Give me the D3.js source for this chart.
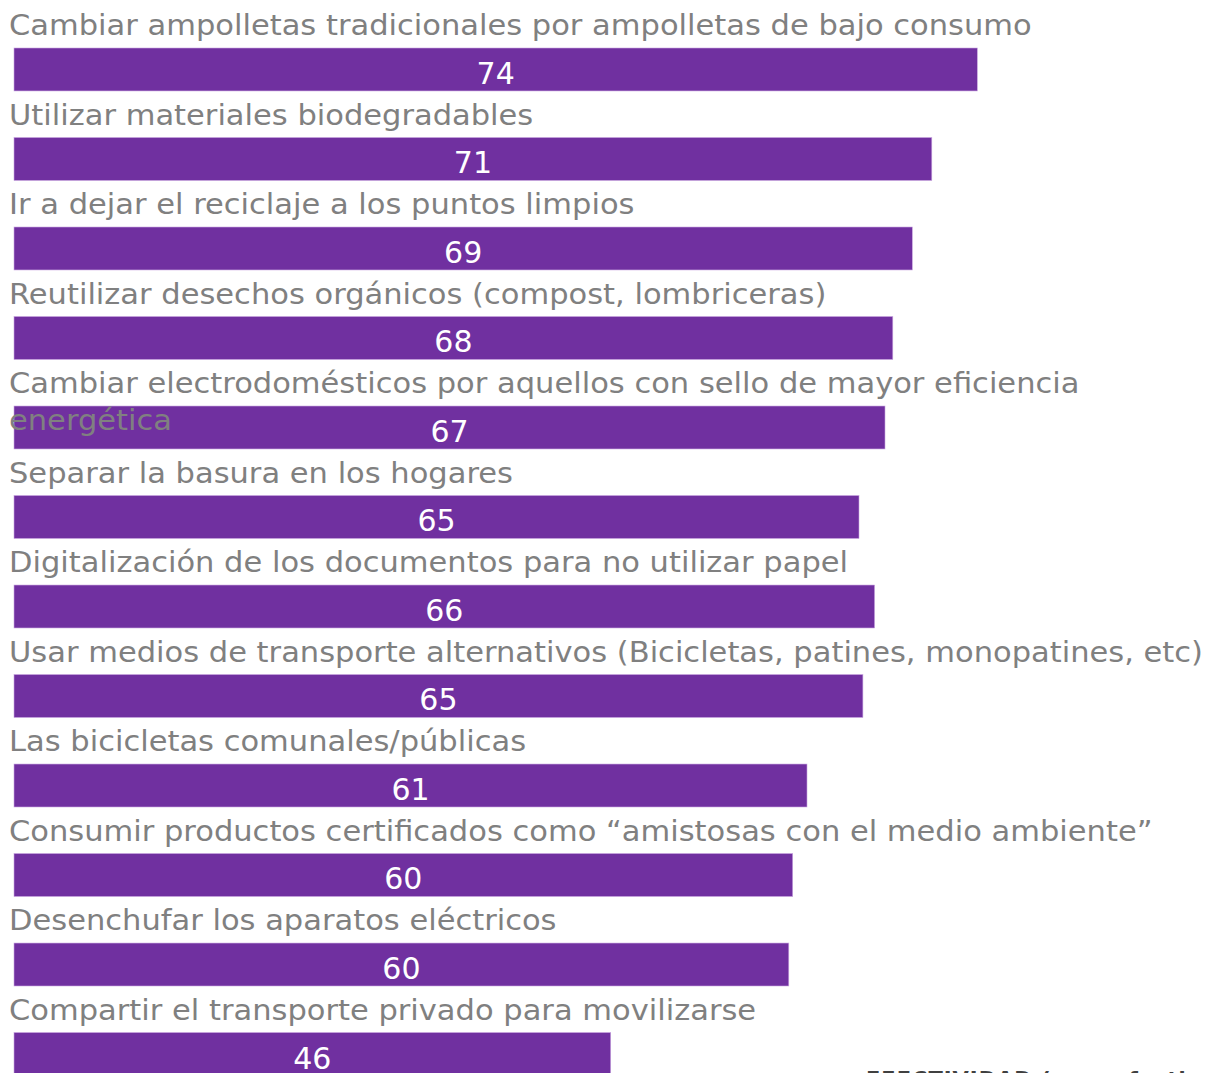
<!DOCTYPE html>
<html>
<head>
<meta charset="utf-8">
<script src="https://cdn.jsdelivr.net/npm/d3@7"></script>
<style>
  html, body { margin: 0; padding: 0; background: #ffffff; overflow: hidden; }
  svg { display: block; }
</style>
</head>
<body>
<svg id="chart" width="1206" height="1073"></svg>
<script>
const categories = [
  "Cambiar ampolletas tradicionales por ampolletas de bajo consumo",
  "Utilizar materiales biodegradables",
  "Ir a dejar el reciclaje a los puntos limpios",
  "Reutilizar desechos orgánicos (compost, lombriceras)",
  "Cambiar electrodomésticos por aquellos con sello de mayor eficiencia energética",
  "Separar la basura en los hogares",
  "Digitalización de los documentos para no utilizar papel",
  "Usar medios de transporte alternativos (Bicicletas, patines, monopatines, etc)",
  "Las bicicletas comunales/públicas",
  "Consumir productos certificados como “amistosas con el medio ambiente”",
  "Desenchufar los aparatos eléctricos",
  "Compartir el transporte privado para movilizarse"
];
const values = [74.1, 70.6, 69.1, 67.6, 67.0, 65.0, 66.2, 65.3, 61.0, 59.9, 59.6, 45.9];
const axisTitle = "EFECTIVIDAD (muy efectivo)";

const svg = d3.select("#chart");
const barColor = "#7030A0";
const labelColor = "#808080";
const fontFamily = "'DejaVu Sans', sans-serif";
const fontSize = 29;

const data = categories.map((c, i) => ({ cat: c, value: values[i] }));

const x = d3.scaleLinear().domain([0, 80]).range([14, 1054]);
const y = d3.scaleBand().domain(categories).range([48, 1075.5]).paddingInner(0.52).paddingOuter(0);

function measure(t) {
  const p = svg.append("text").attr("font-family", fontFamily).attr("font-size", fontSize).text(t);
  const w = p.node().getComputedTextLength();
  p.remove();
  return w;
}

// horizontal scale factor: widest single-line label fits the reference width
const hScale = 1194 / measure(categories[7]);

// bars
svg.append("g").selectAll("rect").data(data).join("rect")
  .attr("x", x(0))
  .attr("y", d => y(d.cat))
  .attr("width", d => x(d.value) - x(0))
  .attr("height", y.bandwidth())
  .attr("fill", barColor)
  .attr("stroke", "#c9a6e0")
  .attr("stroke-width", 0.6);

// category labels (wrapped)
const maxW = 1197;
const lg = svg.append("g");
data.forEach(d => {
  const words = d.cat.split(" ");
  const lines = [];
  let cur = "";
  words.forEach(w => {
    const test = cur ? cur + " " + w : w;
    if (cur && measure(test) * hScale > maxW) { lines.push(cur); cur = w; }
    else cur = test;
  });
  if (cur) lines.push(cur);
  lines.forEach((ln, j) => {
    const nat = measure(ln);
    lg.append("text")
      .attr("x", 9)
      .attr("y", y(d.cat) - 13 + j * 37)
      .attr("font-family", fontFamily)
      .attr("font-size", fontSize)
      .attr("fill", labelColor)
      .attr("textLength", nat * hScale)
      .attr("lengthAdjust", "spacingAndGlyphs")
      .text(ln);
  });
});

// value labels
const fmt = d3.format(".0f");
svg.append("g").selectAll("text").data(data).join("text")
  .attr("x", d => (x(0) + x(d.value)) / 2)
  .attr("y", d => y(d.cat) + y.bandwidth() - 7)
  .attr("text-anchor", "middle")
  .attr("font-family", fontFamily)
  .attr("font-size", 30)
  .attr("fill", "#ffffff")
  .text(d => fmt(d.value));

// axis title (cut off at the bottom, as in the reference)
svg.append("text")
  .attr("x", 866)
  .attr("y", 1087)
  .attr("font-family", fontFamily)
  .attr("font-size", 21)
  .attr("font-weight", "bold")
  .attr("letter-spacing", 1)
  .attr("fill", "#404040")
  .text(axisTitle);
</script>
</body>
</html>
